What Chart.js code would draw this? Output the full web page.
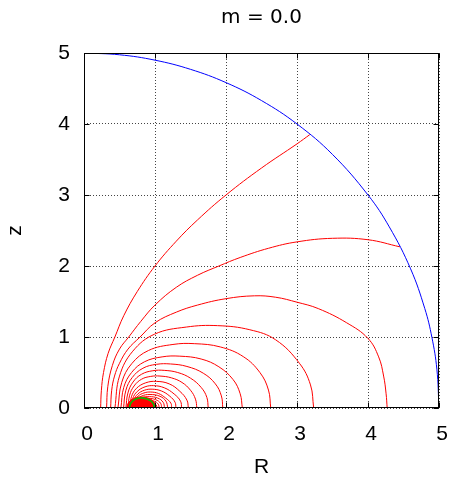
<!DOCTYPE html>
<html>
<head>
<meta charset="utf-8">
<script src="https://cdn.jsdelivr.net/npm/chart.js@4/dist/chart.umd.min.js"></script>
<style>
  body { margin: 0; background: #fff; }
</style>
</head>
<body>
<canvas id="fieldChart" width="452" height="480"></canvas>
<script>
// axis ticks
const rTicks = [0, 1, 2, 3, 4, 5];
const zTicks = [0, 1, 2, 3, 4, 5];

// outer boundary (blue), [R, z]
const boundary = [[0, 5], [0.5, 4.975], [1, 4.899], [1.5, 4.77], [2, 4.583], [2.5, 4.33], [3, 4], [3.5, 3.571],
    [4, 3], [4.3, 2.551], [4.6, 1.96], [4.8, 1.4], [4.9, 0.995], [4.97, 0.547], [5, 0]];

// open field lines ending on the boundary
const line1 = [[0.234, 0], [0.245, 0.25], [0.275, 0.5], [0.34, 0.77], [0.435, 1.0], [0.56, 1.3], [0.75, 1.64],
    [1.0, 2.0], [1.3, 2.35], [1.6, 2.65], [2.0, 3.0], [2.5, 3.38], [3.0, 3.72], [3.18, 3.85]];
const line2 = [[0.318, 0], [0.335, 0.3], [0.4, 0.6], [0.5, 0.83], [0.63, 1.0], [0.8, 1.22], [1.0, 1.45], [1.3, 1.7],
    [1.6, 1.87], [1.9, 2.0], [2.2, 2.12], [2.6, 2.25], [3.0, 2.34], [3.5, 2.39], [4.0, 2.37], [4.45, 2.27]];

// closed field lines
const line3 = [[0.375, 0], [0.39, 0.25], [0.43, 0.45], [0.5, 0.63], [0.62, 0.83], [0.79, 1.0], [1.0, 1.2],
    [1.3, 1.35], [1.6, 1.45], [2.0, 1.54], [2.4, 1.58], [2.7, 1.56], [3.0, 1.49], [3.3, 1.4], [3.7, 1.2],
    [4.0, 0.98], [4.15, 0.72], [4.22, 0.45], [4.255, 0.2], [4.27, 0]];
const line4 = [[0.435, 0], [0.5, 0.45], [0.687, 0.8], [0.994, 1.04], [1.441, 1.14], [1.88, 1.16], [2.336, 1.102],
    [2.7, 0.96], [3.034, 0.63], [3.19, 0.325], [3.235, 0]];
const line5 = [[0.478, 0], [0.532, 0.362], [0.672, 0.624], [0.908, 0.81], [1.253, 0.895], [1.56, 0.906],
    [1.92, 0.86], [2.243, 0.724], [2.479, 0.498], [2.598, 0.253], [2.63, 0]];
const line6 = [[0.52, 0], [0.56, 0.29], [0.67, 0.5], [0.85, 0.65], [1.1, 0.72], [1.35, 0.73], [1.65, 0.69],
    [1.9, 0.58], [2.1, 0.4], [2.2, 0.2], [2.23, 0]];
const line7 = [[0.557, 0], [0.59, 0.25], [0.68, 0.43], [0.83, 0.56], [1.02, 0.615], [1.22, 0.62], [1.45, 0.585],
    [1.68, 0.49], [1.85, 0.34], [1.935, 0.17], [1.955, 0]];
const line8 = [[0.59, 0], [0.618, 0.21], [0.69, 0.365], [0.81, 0.475], [0.97, 0.525], [1.13, 0.53], [1.32, 0.5],
    [1.5, 0.42], [1.65, 0.29], [1.73, 0.15], [1.75, 0]];
const line9 = [[0.62, 0], [0.643, 0.18], [0.705, 0.31], [0.81, 0.405], [0.94, 0.445], [1.07, 0.45], [1.23, 0.425],
    [1.38, 0.36], [1.5, 0.25], [1.57, 0.125], [1.59, 0]];
const line10 = [[0.645, 0], [0.668, 0.158], [0.74, 0.278], [0.87, 0.355], [1.02, 0.375], [1.2, 0.34],
    [1.35, 0.235], [1.45, 0.11], [1.47, 0]];
const line11 = [[0.665, 0], [0.686, 0.132], [0.75, 0.233], [0.86, 0.298], [0.98, 0.315], [1.13, 0.285],
    [1.27, 0.197], [1.36, 0.095], [1.375, 0]];
const line12 = [[0.683, 0], [0.702, 0.111], [0.757, 0.196], [0.85, 0.25], [0.96, 0.265], [1.09, 0.24],
    [1.21, 0.165], [1.283, 0.08], [1.295, 0]];
const line13 = [[0.698, 0], [0.714, 0.095], [0.762, 0.167], [0.845, 0.212], [0.94, 0.225], [1.05, 0.204],
    [1.15, 0.14], [1.224, 0.068], [1.235, 0]];
const line14 = [[0.712, 0], [0.731, 0.095], [0.806, 0.165], [0.93, 0.19], [1.07, 0.165], [1.155, 0.095], [1.18, 0]];
const line15 = [[0.724, 0], [0.74, 0.08], [0.806, 0.139], [0.92, 0.16], [1.04, 0.139], [1.115, 0.08], [1.135, 0]];
const line16 = [[0.735, 0], [0.749, 0.068], [0.807, 0.117], [0.905, 0.135], [1.01, 0.117], [1.078, 0.068], [1.095, 0]];
const line17 = [[0.745, 0], [0.758, 0.055], [0.808, 0.096], [0.895, 0.11], [0.99, 0.096], [1.045, 0.055], [1.06, 0]];
const line18 = [[0.754, 0], [0.765, 0.045], [0.809, 0.078], [0.885, 0.09], [0.97, 0.078], [1.017, 0.045], [1.03, 0]];

// densely packed lines around the ring, drawn as a solid patch
const ringCore = [[0.6, 0], [0.63, 0.08], [0.7, 0.135], [0.8, 0.155], [0.9, 0.14], [0.98, 0.09], [1.02, 0]];

// green contour
const greenArc = [[0.64, 0], [0.655, 0.06], [0.7, 0.11], [0.78, 0.14], [0.86, 0.135], [0.94, 0.1], [0.98, 0.05], [0.99, 0]];

const redLines = [line1, line2, line3, line4, line5, line6, line7, line8, line9, line10,
    line11, line12, line13, line14, line15, line16, line17, line18];

const FONT = 'Liberation Sans, Arial, sans-serif';

function toXY(arr) {
    return arr.map(p => ({ x: p[0], y: p[1] }));
}

function curve(arr, color, width = 1) {
    return {
        data: toXY(arr),
        borderColor: color,
        borderWidth: width,
        pointRadius: 0,
        tension: 0.4,
        fill: false
    };
}

const datasets = [];
datasets.push(curve(greenArc, '#00c000', 1.6));
datasets.push(curve(boundary, '#0000ff'));
datasets.push(Object.assign(curve(ringCore, '#ff0000'), { fill: 'origin', backgroundColor: '#ff0000' }));
redLines.forEach(l => datasets.push(curve(l, '#ff0000')));

// gnuplot style frame with inward tick marks
const frameTicks = {
    id: 'frameTicks',
    afterDatasetsDraw(chart) {
        const { ctx, chartArea: a, scales: { x, y } } = chart;
        const L = Math.round(a.left) + 0.5, R = Math.round(a.right) - 0.5;
        const T = Math.round(a.top) + 0.5, B = Math.round(a.bottom) - 0.5;
        ctx.save();
        ctx.strokeStyle = '#000';
        ctx.lineWidth = 1;
        ctx.beginPath();
        rTicks.forEach(v => {
            const px = Math.round(x.getPixelForValue(v)) + 0.5;
            ctx.moveTo(px, B); ctx.lineTo(px, B - 5);
            ctx.moveTo(px, T); ctx.lineTo(px, T + 5);
        });
        zTicks.forEach(v => {
            const py = Math.round(y.getPixelForValue(v)) + 0.5;
            ctx.moveTo(L, py); ctx.lineTo(L + 5, py);
            ctx.moveTo(R, py); ctx.lineTo(R - 5, py);
        });
        ctx.stroke();
        ctx.strokeRect(L, T, R - L, B - T);
        ctx.restore();
    }
};

new Chart(document.getElementById('fieldChart'), {
    type: 'line',
    data: { datasets },
    plugins: [frameTicks],
    options: {
        responsive: false,
        animation: false,
        layout: { padding: { left: 0, right: 13, top: 0, bottom: 0 } },
        plugins: {
            legend: { display: false },
            tooltip: { enabled: false },
            title: {
                display: true,
                fullSize: false,
                text: 'm = 0.0',
                color: '#000',
                font: { family: 'DejaVu Sans, sans-serif', size: 20, weight: 'normal' },
                padding: { top: 6, bottom: 23 }
            }
        },
        scales: {
            x: {
                type: 'linear',
                min: 0,
                max: 5,
                afterBuildTicks: s => { s.ticks = rTicks.map(v => ({ value: v })); },
                afterFit: s => { s.height = 72; s.paddingLeft = 0; s.paddingRight = 0; },
                ticks: { color: '#000', font: { family: FONT, size: 21 }, padding: 14, labelOffset: 3, maxRotation: 0 },
                grid: { color: '#444', drawTicks: false },
                border: { display: false, dash: [1, 2] },
                title: {
                    display: true,
                    text: 'R',
                    color: '#000',
                    font: { family: FONT, size: 21 },
                    padding: { top: 0, bottom: 0 }
                }
            },
            y: {
                type: 'linear',
                min: 0,
                max: 5,
                afterBuildTicks: s => { s.ticks = zTicks.map(v => ({ value: v })); },
                afterFit: s => { s.width = 84; },
                ticks: { color: '#000', font: { family: FONT, size: 21 }, padding: 14 },
                grid: { color: '#444', drawTicks: false },
                border: { display: false, dash: [1, 2] },
                title: {
                    display: true,
                    text: 'z',
                    color: '#000',
                    font: { family: FONT, size: 21 },
                    padding: { top: 3, bottom: 0 }
                }
            }
        }
    }
});
</script>
</body>
</html>
